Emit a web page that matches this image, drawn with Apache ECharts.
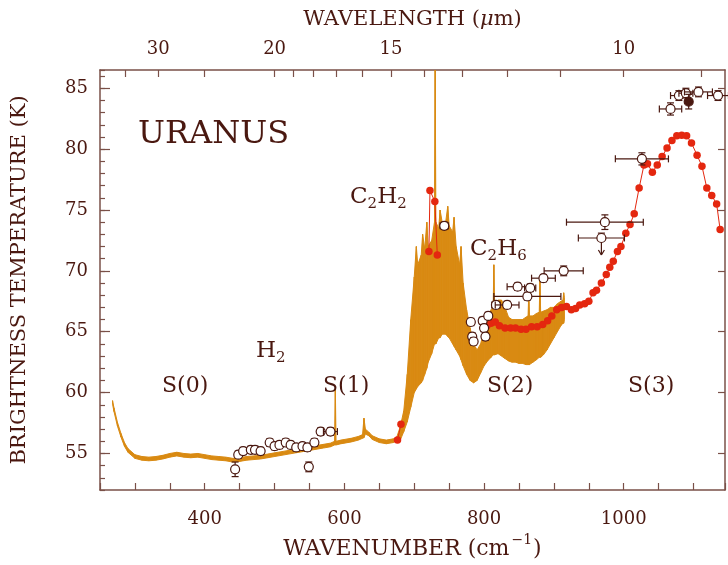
<!DOCTYPE html>
<html>
<head>
<meta charset="utf-8">
<script src="https://cdn.jsdelivr.net/npm/echarts@6/dist/echarts.min.js"></script>
<style>html,body{margin:0;background:#fff}#chart{width:728px;height:565px}</style>
</head>
<body>
<div id="chart"></div>
<script>
// spectrum envelope (orange): wavenumber, lower and upper edge of the noisy trace
var specWn = [268,270,275,280,285,290,300,310,320,330,340,350,360,370,380,390,400,410,420,430,440,450,460,470,480,490,500,510,520,530,540,550,560,570,580,586,587,588,595,600,610,620,626,628,630,635,640,650,660,670,675,
  680,685,690,695,700,703,705,710,712,715,718,720,725,729,730,731,735,737,740,745,748,750,755,757,760,765,767,770,775,780,785,790,795,800,805,810,813,814,815,820,825,830,835,840,845,850,855,860,863,864,865,870,875,879,880,881,885,890,895,900,905,910,913,914,915];
var specLow = [59.05,58.45,57.25,56.35,55.6,55.1,54.6,54.45,54.4,54.45,54.55,54.7,54.8,54.7,54.65,54.7,54.6,54.5,54.45,54.4,54.3,54.35,54.45,54.5,54.55,54.65,54.75,54.85,54.95,55.05,55.15,55.25,55.35,55.45,55.55,55.7,55.7,55.7,55.8,55.85,55.95,56.1,56.25,56.3,56.6,56.45,56.15,55.9,55.8,55.9,56.05,
  56.1,56.8,57.6,58.8,60.0,60.3,60.5,60.8,61.0,61.5,62.0,62.5,63.2,64.0,64.0,64.0,64.5,64.5,64.8,64.8,64.6,64.5,64.0,63.8,63.5,63.0,62.7,62.2,61.5,61.0,60.8,61.0,61.6,62.2,62.6,62.9,63.1,63.1,63.1,63.2,63.0,62.8,62.6,62.5,62.5,62.4,62.4,62.3,62.3,62.3,62.3,62.5,62.7,62.9,62.9,62.9,63.1,63.5,64.0,64.5,65.0,65.5,65.7,65.7,66.0];
var specHigh = [59.35,58.75,57.55,56.65,55.9,55.4,54.9,54.75,54.7,54.75,54.85,55.0,55.1,55.0,54.95,55.0,54.9,54.8,54.75,54.7,54.6,54.65,54.75,54.8,54.85,54.95,55.05,55.15,55.25,55.35,55.45,55.55,55.65,55.75,55.85,56.0,60.3,56.0,56.1,56.15,56.25,56.4,56.55,57.9,57.0,56.75,56.45,56.2,56.1,56.2,56.35,
  57.2,58.5,61.5,66,69.5,72.0,70.5,71.3,73.0,71.8,74.0,72,72.5,74,86.5,74,73.5,75.0,74,74,75.3,73.7,73.2,74.4,72,70.5,72.0,69,66.8,65.3,64,63.5,64,65,66,66.8,67,70.5,67.2,67.6,67.6,67,66.2,66,66,66,66,66.2,66.3,68.2,66.3,66.3,66.5,66.6,69.3,66.6,66.7,66.8,67,67,67.3,67.5,67.6,68.2,67.8];

// red filled-dot spectrum, null breaks the line where it is hidden
var redWn = [676,681,null,721,722.5,729.5,733,null,804,810,816,822,830,838,845,853,860,868,876,884,891,897,904,911,918,925,931,937,944,950,956,961,968,975,980,985,991,996,1003,1009,1015,1022,1029,1034,1041,1048,1055,1062,1069,1076,1083,1090,1097,1105,1112,1119,1126,1133,1138];
var redT = [56.1,57.4,null,71.6,76.6,75.7,71.3,null,65.5,65.7,65.8,65.5,65.3,65.3,65.3,65.2,65.2,65.4,65.4,65.6,65.9,66.3,66.8,67.0,67.07,66.8,66.9,67.2,67.3,67.5,68.2,68.4,69.0,69.7,70.3,70.8,71.6,72.0,73.1,73.8,74.7,76.8,78.7,78.8,78.1,78.7,79.4,80.1,80.7,81.1,81.15,81.1,80.5,79.5,78.6,76.8,76.2,75.5,73.4];

// ground-based points: [wavenumber, T, x error, T error]
var openPts = [
  [443.5,53.7,0,0.6],[448,54.9,0,0.3],[455,55.2,0,0.3],[466,55.3,0,0.3],[472,55.3,0,0.3],
  [480,55.2,0,0.3],[493,55.9,0,0.3],[500,55.6,0,0.3],[507,55.7,0,0.3],[516,55.9,0,0.3],
  [523,55.7,0,0.3],[531,55.5,0,0.3],[540,55.6,0,0.3],[547,55.5,0,0.3],[549,53.9,0,0.4],
  [557,55.9,0,0.3],[566,56.8,4,0.3],[580,56.8,10,0.3],[743,73.7,6,0.3],[781,65.8,4,0.3],
  [783,64.6,3,0.3],[785,64.2,3,0.3],[798,65.9,5,0.3],[800,65.3,4,0.3],[802,64.6,3,0.3],
  [806,66.3,4,0.3],[817,67.2,6,0.3],[833,67.2,17,0.3],[848,68.7,15,0.3],[862,67.9,48,0.3],
  [866,68.6,8,0.3],[885,69.4,17,0.3],[914,70.0,28,0.4],[973,74.0,55,0.6],[1026,79.2,38,0.5],
  [1067,83.3,16,0.5],[1079,84.4,12,0.4],[1089,84.6,10,0.4],[1107,84.7,20,0.4],[1135,84.4,15,0.4]
];
var filledPts = [[1093,83.9,0,0.6]];
var limitPts = [[968,72.7,33,1.4]];

// axis ticks
var tempMajor = [55,60,65,70,75,80,85];
var lambdaMajor = [30,20,15,10];
var lambdaMinor = [35,25,19,18,17,16,14,13,12,11,9];

var ink = '#4a1810';
var axisCol = '#7a5048';
var orange = '#d98a12';
var red = '#e4270f';
var serif = '"DejaVu Serif", serif';

var toWn = function (l) { return 10000 / l; };

// one quad per step of the envelope
var bandSegs = [];
for (var i = 0; i < specWn.length - 1; i++) {
  bandSegs.push([specWn[i], specLow[i], specHigh[i], specWn[i + 1], specLow[i + 1], specHigh[i + 1]]);
}

function bandItem(params, api) {
  var a = api.coord([api.value(0), api.value(1)]);
  var b = api.coord([api.value(0), api.value(2)]);
  var c = api.coord([api.value(3), api.value(5)]);
  var d = api.coord([api.value(3), api.value(4)]);
  return { type: 'polygon', shape: { points: [a, b, c, d] },
    style: { fill: orange, stroke: orange, lineWidth: 1 } };
}

function errorBars(kind) {
  return function (params, api) {
    var x = api.value(0), y = api.value(1), xe = api.value(2), ye = api.value(3);
    var p = api.coord([x, y]);
    var st = { stroke: ink, lineWidth: 1.2, fill: null };
    var kids = [];
    var cap = 3.5;
    function seg(a, b) {
      kids.push({ type: 'line', shape: { x1: a[0], y1: a[1], x2: b[0], y2: b[1] }, style: st });
    }
    if (xe > 0) {
      var l = api.coord([x - xe, y]), r = api.coord([x + xe, y]);
      seg(l, r);
      seg([l[0], l[1] - cap], [l[0], l[1] + cap]);
      seg([r[0], r[1] - cap], [r[0], r[1] + cap]);
    }
    if (kind === 'limit') {
      var d = api.coord([x, y - ye]);
      var t0 = api.coord([x, y + 0.4]);
      seg(t0, d);
      seg([t0[0] - cap, t0[1]], [t0[0] + cap, t0[1]]);
      seg([d[0] - 3, d[1] - 5], d);
      seg([d[0] + 3, d[1] - 5], d);
    } else {
      var t = api.coord([x, y + ye]), u = api.coord([x, y - ye]);
      seg(t, u);
      seg([t[0] - cap, t[1]], [t[0] + cap, t[1]]);
      seg([u[0] - cap, u[1]], [u[0] + cap, u[1]]);
    }
    kids.push({ type: 'circle', shape: { cx: p[0], cy: p[1], r: 4.5 },
      style: { fill: kind === 'filled' ? ink : '#fff', stroke: ink, lineWidth: 1.2 } });
    return { type: 'group', children: kids };
  };
}

var chart = echarts.init(document.getElementById('chart'));

var chem = function (parts) {
  var s = '';
  parts.forEach(function (p, i) { s += (i % 2 ? '{s|' : '{b|') + p + '}'; });
  return s;
};
var chemRich = {
  b: { font: '23px ' + serif, fill: ink, verticalAlign: 'top', lineHeight: 32 },
  s: { font: '15px ' + serif, fill: ink, verticalAlign: 'top', lineHeight: 32, padding: [11, 0, 0, 0] }
};

function label(text, x, y, size) {
  return { type: 'text', x: x, y: y, silent: true, z: 10,
    style: { text: text, font: size + 'px ' + serif, fill: ink, verticalAlign: 'middle' } };
}
function chemLabel(parts, x, y) {
  return { type: 'text', x: x, y: y, silent: true, z: 10,
    style: { text: chem(parts), rich: chemRich, fill: ink } };
}

var option = {
  animation: false,
  backgroundColor: '#fff',
  grid: { left: 100, right: -3, top: 70, bottom: 75 },
  xAxis: [{
    type: 'value', position: 'bottom', min: 250, max: 1145, interval: 50,
    name: '{a|WAVENUMBER (cm}{sup|−1}{a|)}', nameLocation: 'middle', nameGap: 43,
    nameTextStyle: { rich: {
      a: { fontFamily: serif, fontSize: 22, color: ink, verticalAlign: 'top', padding: [5, 0, 0, 0] },
      sup: { fontFamily: serif, fontSize: 14, color: ink, verticalAlign: 'top', padding: [0, 1, 0, 2] }
    } },
    axisLine: { lineStyle: { color: axisCol, width: 1.5 } },
    axisTick: { inside: true, length: 7, lineStyle: { color: axisCol, width: 1.2 } },
    axisLabel: { margin: 20, color: ink, fontFamily: serif, fontSize: 18,
      formatter: function (v) { return (v % 200 === 0 && v >= 400) ? String(v) : ''; } },
    splitLine: { show: false }
  }, {
    type: 'value', position: 'top', min: 250, max: 1145,
    name: '{a|WAVELENGTH (}{mu|μ}{a|m)}', nameLocation: 'middle', nameGap: 40,
    nameTextStyle: { rich: {
      a: { fontFamily: serif, fontSize: 21, color: ink },
      mu: { fontFamily: serif, fontSize: 21, fontStyle: 'italic', color: ink }
    } },
    axisLine: { lineStyle: { color: axisCol, width: 1.5 } },
    axisTick: { inside: true, length: 7, customValues: lambdaMajor.concat(lambdaMinor).map(toWn),
      lineStyle: { color: axisCol, width: 1.2 } },
    axisLabel: { margin: 12, color: ink, fontFamily: serif, fontSize: 18,
      customValues: lambdaMajor.map(toWn),
      formatter: function (v) { return String(Math.round(10000 / v)); } },
    splitLine: { show: false }
  }],
  yAxis: [{
    type: 'value', position: 'left', min: 52, max: 86.5,
    name: 'BRIGHTNESS TEMPERATURE (K)', nameLocation: 'middle', nameGap: 70,
    nameTextStyle: { fontFamily: serif, fontSize: 21, color: ink },
    axisLine: { lineStyle: { color: axisCol, width: 1.5 } },
    axisTick: { inside: true, length: 10, customValues: tempMajor, lineStyle: { color: axisCol, width: 1.2 } },
    axisLabel: { margin: 12, color: ink, fontFamily: serif, fontSize: 18, customValues: tempMajor },
    splitLine: { show: false }
  }, {
    type: 'value', position: 'left', min: 52, max: 86.5, interval: 1,
    axisLine: { show: false },
    axisTick: { inside: true, length: 5, lineStyle: { color: axisCol, width: 1.2 } },
    axisLabel: { show: false },
    splitLine: { show: false }
  }, {
    type: 'value', position: 'right', min: 52, max: 86.5,
    axisLine: { lineStyle: { color: axisCol, width: 1.5 } },
    axisTick: { inside: true, length: 7, customValues: tempMajor, lineStyle: { color: axisCol, width: 1.2 } },
    axisLabel: { show: false },
    splitLine: { show: false }
  }],
  series: [{
    name: 'spectrum', type: 'custom', renderItem: bandItem, data: bandSegs,
    encode: { x: [0, 3], y: [1, 2, 4, 5] }, z: 2
  }, {
    name: 'model', type: 'line', symbol: 'circle', symbolSize: 7.5,
    data: redWn.map(function (w, i) { return w === null ? '-' : [w, redT[i]]; }),
    connectNulls: false,
    itemStyle: { color: red }, lineStyle: { color: red, width: 1 }, z: 3
  }, {
    type: 'custom', renderItem: errorBars('open'), data: openPts, encode: { x: 0, y: 1 }, z: 4
  }, {
    type: 'custom', renderItem: errorBars('filled'), data: filledPts, encode: { x: 0, y: 1 }, z: 4
  }, {
    type: 'custom', renderItem: errorBars('limit'), data: limitPts, encode: { x: 0, y: 1 }, z: 4
  }],
  graphic: [
    label('URANUS', 138, 135, 32),
    label('S(0)', 162, 386, 22),
    label('S(1)', 323, 386, 22),
    label('S(2)', 487, 386, 22),
    label('S(3)', 628, 386, 22),
    chemLabel(['C', '2', 'H', '2'], 350, 186),
    chemLabel(['C', '2', 'H', '6'], 470, 238),
    chemLabel(['H', '2'], 256, 340)
  ]
};
chart.setOption(option);
</script>
</body>
</html>
